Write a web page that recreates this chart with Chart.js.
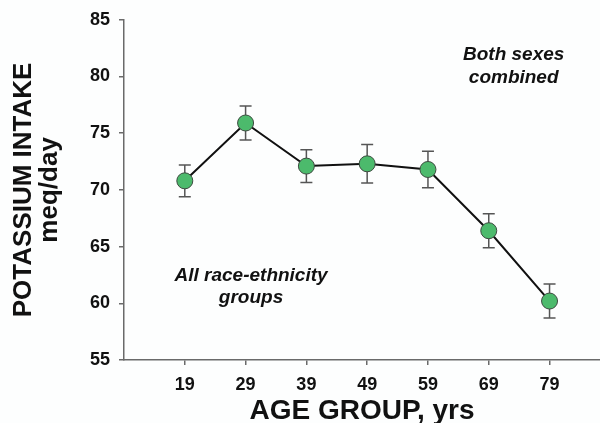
<!DOCTYPE html>
<html>
<head>
<meta charset="utf-8">
<script src="https://cdn.jsdelivr.net/npm/chart.js@4.4.1/dist/chart.umd.min.js"></script>
<style>
  html, body { margin: 0; padding: 0; background: #fdfefe; }
  #wrap { width: 600px; height: 423px; }
</style>
</head>
<body>
<div id="wrap"><canvas id="Chart-potassium"></canvas></div>
<script>
var ageGroups = [19, 29, 39, 49, 59, 69, 79];
var intake = [70.8, 75.9, 72.1, 72.3, 71.8, 66.4, 60.2];
var intakeErr = [1.4, 1.5, 1.45, 1.7, 1.6, 1.5, 1.5];
var yTicks = [55, 60, 65, 70, 75, 80, 85];

// notes written inside the plot, placed in data units
var notes = [
  { text: 'Both sexes', x: 73.1, y: 81.45 },
  { text: 'combined', x: 73.1, y: 79.45 },
  { text: 'All race-ethnicity', x: 29.9, y: 61.95 },
  { text: 'groups', x: 29.9, y: 60.05 }
];

Chart.defaults.font.family = '"Liberation Sans", Arial, sans-serif';

var errorBars = {
  id: 'errorBars',
  beforeDatasetsDraw: function(chart) {
    var ctx = chart.ctx;
    var xs = chart.scales.x, ys = chart.scales.y;
    ctx.save();
    ctx.strokeStyle = '#555';
    ctx.lineWidth = 1.5;
    ageGroups.forEach(function(age, i) {
      var px = xs.getPixelForValue(age);
      var top = ys.getPixelForValue(intake[i] + intakeErr[i]);
      var bot = ys.getPixelForValue(intake[i] - intakeErr[i]);
      ctx.beginPath();
      ctx.moveTo(px, top); ctx.lineTo(px, bot);
      ctx.moveTo(px - 6, top); ctx.lineTo(px + 6, top);
      ctx.moveTo(px - 6, bot); ctx.lineTo(px + 6, bot);
      ctx.stroke();
    });
    ctx.restore();
  }
};

var plotNotes = {
  id: 'plotNotes',
  afterDraw: function(chart) {
    var ctx = chart.ctx;
    var xs = chart.scales.x, ys = chart.scales.y;
    ctx.save();
    ctx.fillStyle = '#111';
    ctx.font = 'italic bold 19px "Liberation Sans", Arial, sans-serif';
    ctx.textAlign = 'center';
    ctx.textBaseline = 'alphabetic';
    notes.forEach(function(n) {
      ctx.fillText(n.text, xs.getPixelForValue(n.x), ys.getPixelForValue(n.y));
    });
    ctx.restore();
  }
};

var ctx = document.getElementById('Chart-potassium').getContext('2d');
new Chart(ctx, {
  type: 'line',
  data: {
    datasets: [{
      data: ageGroups.map(function(a, i) { return { x: a, y: intake[i] }; }),
      borderColor: '#111',
      borderWidth: 2,
      pointRadius: 8,
      pointHoverRadius: 8,
      pointBackgroundColor: '#4cba6c',
      pointBorderColor: '#3d4a40',
      pointBorderWidth: 1,
      tension: 0
    }]
  },
  options: {
    responsive: true,
    maintainAspectRatio: false,
    animation: false,
    layout: { autoPadding: false, padding: { top: 19.5, left: 0, right: 0, bottom: 0 } },
    plugins: {
      legend: { display: false },
      tooltip: { enabled: false }
    },
    scales: {
      x: {
        type: 'linear',
        min: 9,
        max: 87.3,
        afterBuildTicks: function(s) { s.ticks = ageGroups.map(function(v) { return { value: v }; }); },
        afterFit: function(s) { s.height = 63; s.paddingRight = 0; s.paddingLeft = 0; },
        grid: { drawOnChartArea: false, tickLength: 5, color: '#6a6a6a', lineWidth: 1.5 },
        border: { color: '#6a6a6a', width: 1.5 },
        ticks: {
          color: '#111',
          padding: 9,
          maxRotation: 0,
          autoSkip: false,
          font: { size: 18, weight: 'bold' }
        },
        title: {
          display: true,
          text: 'AGE GROUP, yrs',
          color: '#111',
          padding: 0,
          font: { size: 28, weight: 'bold', lineHeight: 0.86 }
        }
      },
      y: {
        min: 55,
        max: 85,
        afterBuildTicks: function(s) { s.ticks = yTicks.map(function(v) { return { value: v }; }); },
        afterFit: function(s) { s.width = 124; },
        grid: { drawOnChartArea: false, tickLength: 5, color: '#6a6a6a', lineWidth: 1.5 },
        border: { color: '#6a6a6a', width: 1.5 },
        ticks: {
          color: '#111',
          padding: 9,
          font: { size: 18, weight: 'bold' }
        },
        title: {
          display: true,
          text: ['POTASSIUM INTAKE', 'meq/day'],
          color: '#111',
          padding: { top: 11, bottom: 0 },
          font: { size: 26, weight: 'bold', lineHeight: 1.0 }
        }
      }
    }
  },
  plugins: [errorBars, plotNotes]
});
</script>
</body>
</html>
